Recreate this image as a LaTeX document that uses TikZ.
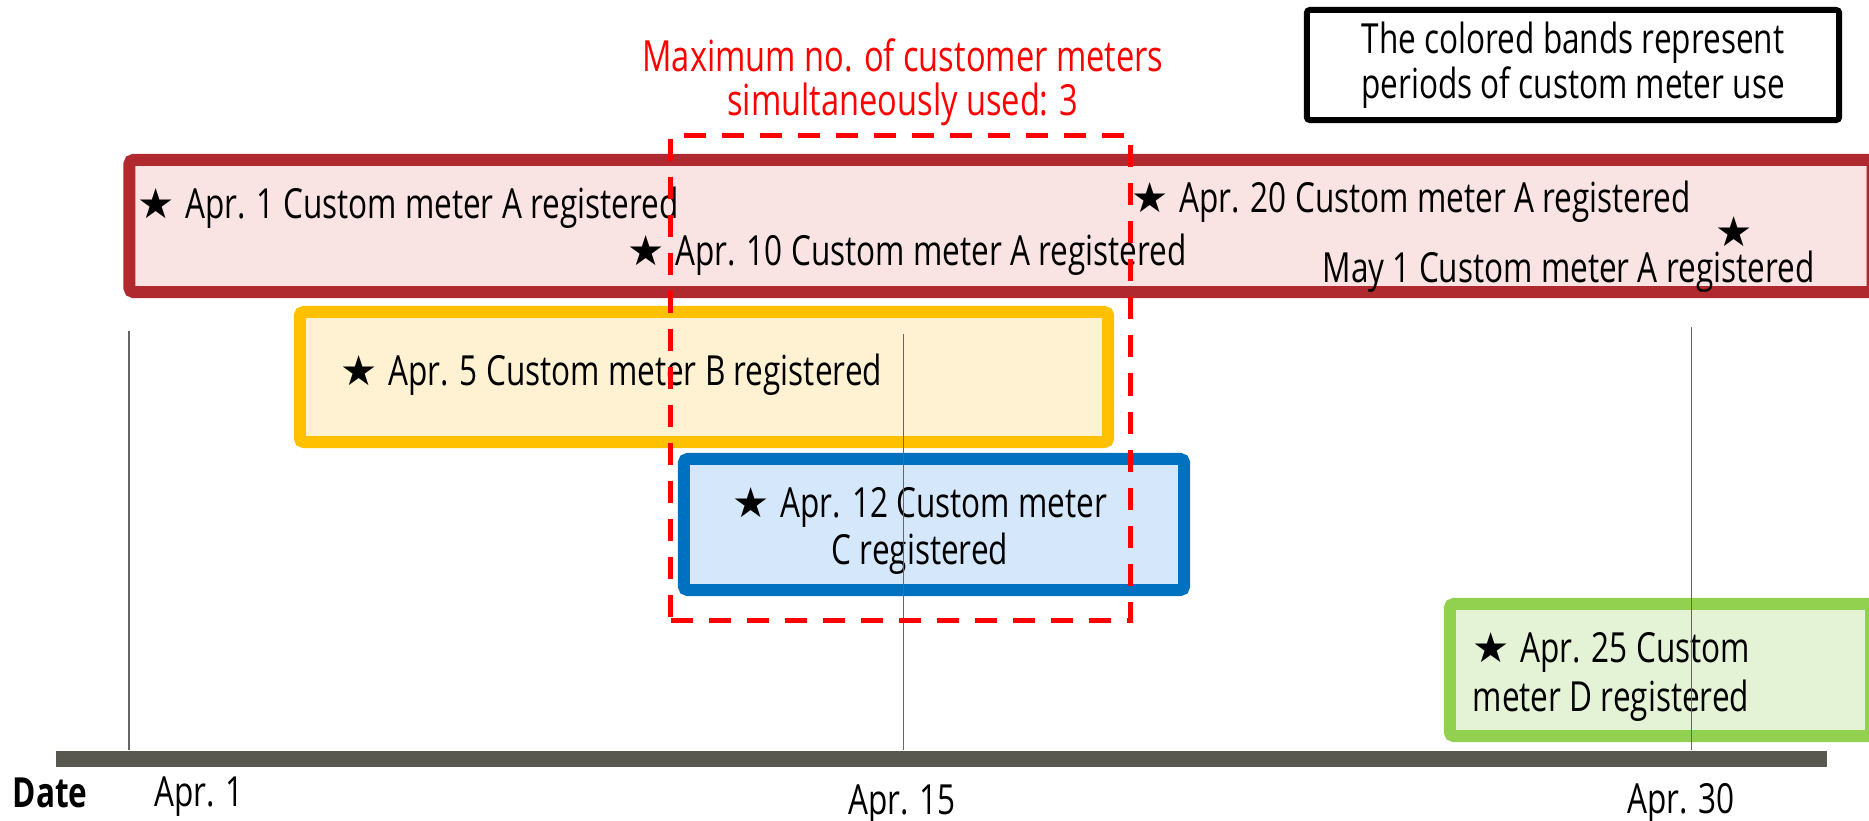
\documentclass[tikz,border=0pt]{standalone}
\usepackage{fontspec}
\setmainfont{Open Sans}[FakeStretch=0.76]
\newfontfamily\symfont{DejaVu Sans}
\newcommand\bst{{\symfont\char"2605}\hspace{3pt}}
\definecolor{aline}{HTML}{B0292F}
\definecolor{afill}{HTML}{FAE3E3}
\definecolor{bline}{HTML}{FFC000}
\definecolor{bfill}{HTML}{FFF2D3}
\definecolor{cline}{HTML}{0070C0}
\definecolor{cfill}{HTML}{D5E7FB}
\definecolor{dline}{HTML}{92D050}
\definecolor{dfill}{HTML}{E4F2D6}
\definecolor{barcol}{HTML}{595850}
\definecolor{tickcol}{HTML}{666666}
\begin{document}
\begin{tikzpicture}[x=0.01cm,y=-0.01cm,
  band/.style={line width=0.12cm, rounded corners=0.04cm, inner sep=0pt, outer sep=0pt},
  bandA/.style={band, draw=aline, fill=afill},
  bandB/.style={band, draw=bline, fill=bfill},
  bandC/.style={band, draw=cline, fill=cfill},
  bandD/.style={band, draw=dline, fill=dfill},
  maxbox/.style={draw=red, line width=0.05cm, dash pattern=on 0.22cm off 0.16cm, inner sep=0pt},
  legendbox/.style={draw=black, line width=0.06cm, rounded corners=0.03cm, inner sep=0pt, fill=white},
  txt/.style={inner sep=0pt, font=\fontsize{11.8pt}{14pt}\selectfont},
  lt/.style={txt, anchor=base west},
  ct/.style={txt, anchor=base},
  redt/.style={ct, text=red, font=\fontsize{12.2pt}{14pt}\selectfont},
  tick/.style={draw=tickcol, line width=0.012cm}]
\useasboundingbox (0,0) rectangle (1869,821);
\fill[white] (0,0) rectangle (1869,821);
% legend
\node[legendbox, minimum width=5.32cm, minimum height=1.10cm] (legend) at (1573,65) {};
\node[ct] (leg1) at (1573,53) {The colored bands represent};
\node[ct] (leg2) at (1573,98) {periods of custom meter use};
% title
\node[redt] (title1) at (903,71) {Maximum no. of customer meters};
\node[redt] (title2) at (903,115) {simultaneously used: 3};
% bands
\node[bandA, minimum width=17.42cm, minimum height=1.32cm] (bandA) at (1001,226) {};
\node[bandB, minimum width=8.08cm, minimum height=1.30cm] (bandB) at (704,377) {};
\node[bandC, minimum width=5.00cm, minimum height=1.31cm] (bandC) at (934,524.5) {};
\node[bandD, minimum width=4.21cm, minimum height=1.32cm] (bandD) at (1660.5,670) {};
% band texts
\node[lt] (a1) at (137,218) {\bst Apr. 1 Custom meter A registered};
\node[lt] (a10) at (627,265) {\bst Apr. 10 Custom meter A registered};
\node[lt] (a20) at (1131,212) {\bst Apr. 20 Custom meter A registered};
\node[txt] (maystar) at (1734,232) {{\symfont\char"2605}};
\node[lt] (may1) at (1322,282) {May 1 Custom meter A registered};
\node[lt] (b5) at (340,385) {\bst Apr. 5 Custom meter B registered};
\node[ct] (c12a) at (920,517) {\bst Apr. 12 Custom meter};
\node[ct] (c12b) at (920,564) {C registered};
\node[lt] (d25a) at (1472,662) {\bst Apr. 25 Custom};
\node[lt] (d25b) at (1472,711) {meter D registered};
% timeline
\node[fill=barcol, inner sep=0pt, minimum width=17.69cm, minimum height=0.16cm] (bar) at (941.5,759) {};
\coordinate (t1) at (129,331);
\coordinate (t15) at (903.5,334);
\coordinate (t30) at (1691.5,327);
\draw[tick] (t1) -- (t1 |- bar.north);
\draw[tick] (t15) -- (t15 |- bar.north);
\draw[tick] (t30) -- (t30 |- bar.north);
% max box
\node[maxbox, minimum width=4.595cm, minimum height=4.84cm] (maxbox) at (900.75,378) {};
% axis labels
\node[lt, font=\fontsize{11.8pt}{14pt}\selectfont\bfseries] (date) at (12,807) {Date};
\node[ct] (l1) at (199,806) {Apr. 1};
\node[ct] (l15) at (902,814) {Apr. 15};
\node[ct] (l30) at (1681,813) {Apr. 30};
\end{tikzpicture}
\end{document}
